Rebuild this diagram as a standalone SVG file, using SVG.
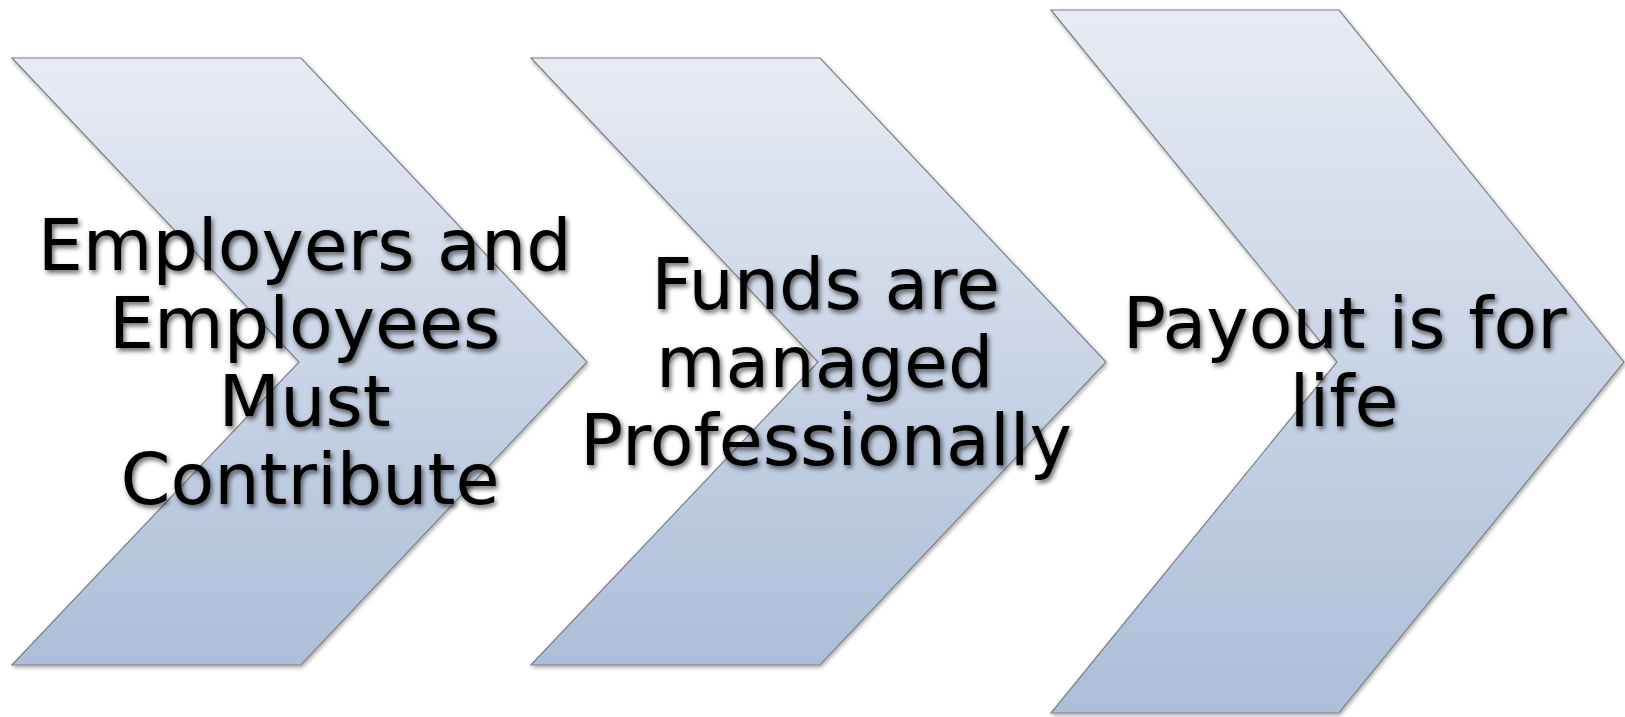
<svg xmlns="http://www.w3.org/2000/svg" width="1625" height="717" viewBox="0 0 1625 717">
  <defs>
    <linearGradient id="chevFill" x1="0" y1="0" x2="0" y2="1">
      <stop offset="0" stop-color="#e7ebf3"/>
      <stop offset="1" stop-color="#acbed8"/>
    </linearGradient>
    <filter id="shapeShadow" x="-5%" y="-5%" width="110%" height="110%">
      <feGaussianBlur in="SourceAlpha" stdDeviation="2"/>
      <feOffset dx="1" dy="2" result="b"/>
      <feComponentTransfer><feFuncA type="linear" slope="0.35"/></feComponentTransfer>
      <feMerge><feMergeNode/><feMergeNode in="SourceGraphic"/></feMerge>
    </filter>
    <filter id="textShadow" x="-5%" y="-10%" width="110%" height="120%">
      <feGaussianBlur in="SourceAlpha" stdDeviation="2.5"/>
      <feOffset dx="2" dy="3"/>
      <feComponentTransfer><feFuncA type="linear" slope="0.6"/></feComponentTransfer>
      <feMerge><feMergeNode/><feMergeNode in="SourceGraphic"/></feMerge>
    </filter>
  </defs>
  <style>
    .chev { fill: url(#chevFill); stroke: #7d8288; stroke-width: 1.2; filter: url(#shapeShadow); }
    .label { font-family: "DejaVu Sans", Verdana, sans-serif; font-size: 71.5px; fill: #000; text-anchor: middle; filter: url(#textShadow); }
  </style>
  <rect width="1625" height="717" fill="#ffffff"/>

  <g id="connectors"/>

  <g id="step1">
    <polygon class="chev" points="12,58 301,58 587,362 301,665 12,665 299,362"/>
    <text class="label">
      <tspan x="316" y="270">Employers and</tspan>
      <tspan x="316" y="348">Employees</tspan>
      <tspan x="316" y="426">Must</tspan>
      <tspan x="310" y="504">Contribute</tspan>
    </text>
  </g>

  <g id="step2">
    <polygon class="chev" points="531,58 820,58 1106,362 820,665 531,665 818,362"/>
    <text class="label">
      <tspan x="837" y="309">Funds are</tspan>
      <tspan x="836" y="387">managed</tspan>
      <tspan x="826" y="465">Professionally</tspan>
    </text>
  </g>

  <g id="step3">
    <polygon class="chev" points="1051,10 1339,10 1624,362 1339,713 1051,713 1337,362"/>
    <text class="label">
      <tspan x="1356" y="348">Payout is for</tspan>
      <tspan x="1344" y="426">life</tspan>
    </text>
  </g>
</svg>
